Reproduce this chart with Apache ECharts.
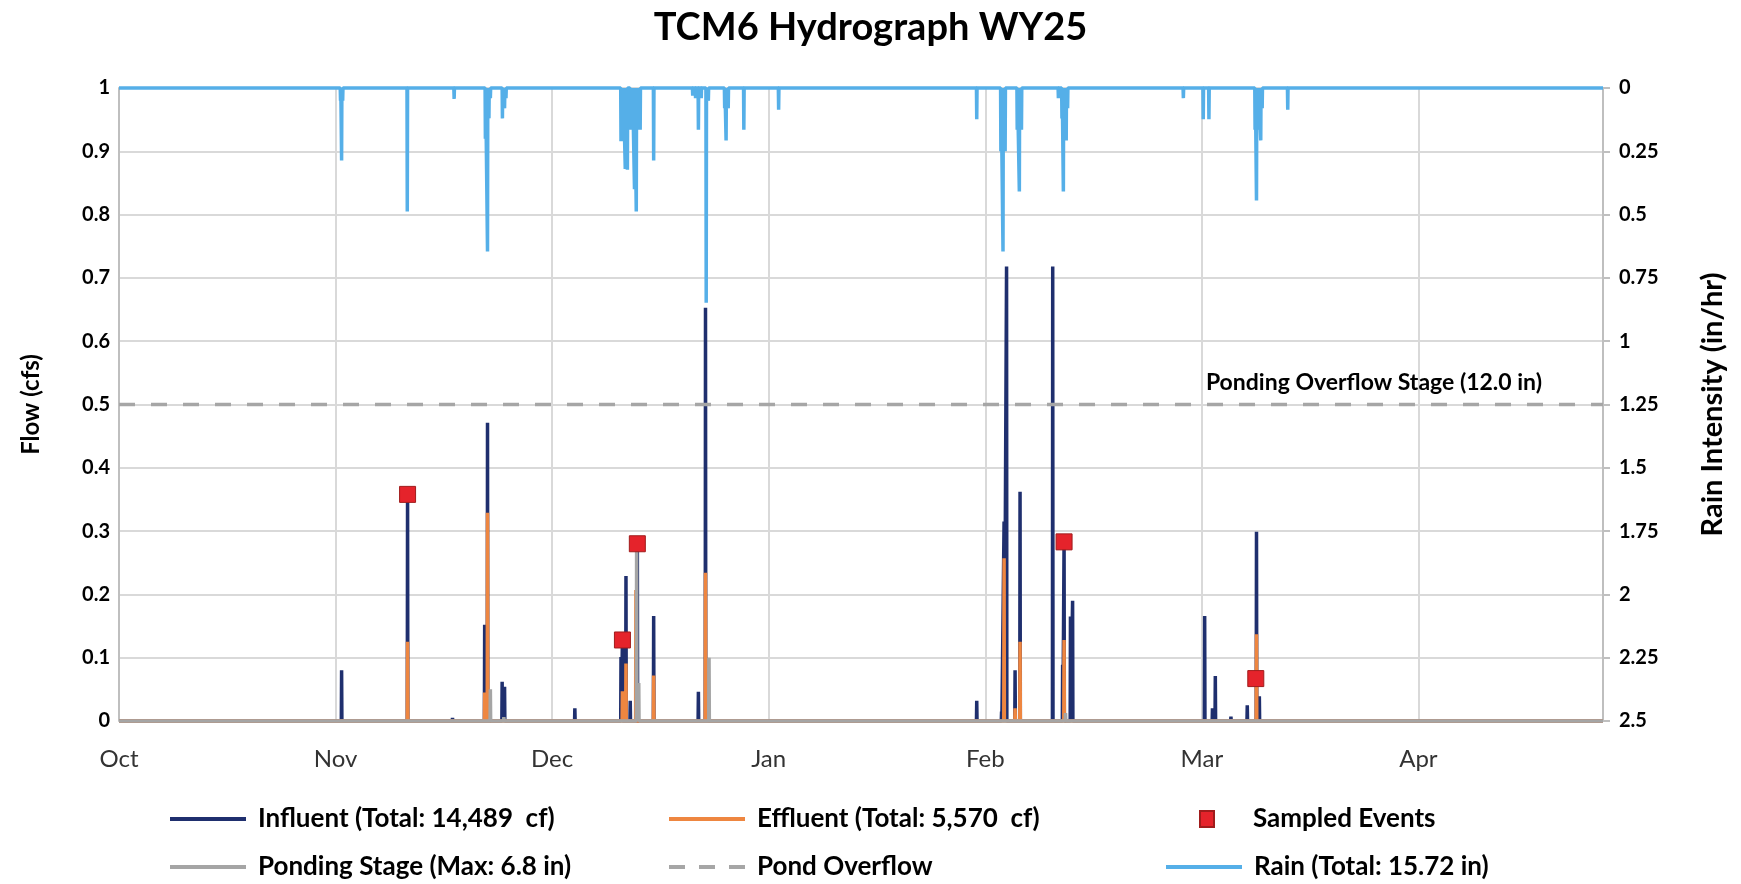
<!DOCTYPE html>
<html>
<head>
<meta charset="utf-8">
<title>TCM6 Hydrograph WY25</title>
<script src="https://cdn.jsdelivr.net/npm/echarts@6/dist/echarts.min.js"></script>
<style>
  html, body { margin: 0; padding: 0; background: #ffffff; }
  #chart { width: 1741px; height: 884px; }
</style>
</head>
<body>
<div id="chart"></div>
<script>
// Time runs in days from 1 Oct 2024; month gridlines every 30.5 days.
const monthLabels = ['Oct', 'Nov', 'Dec', 'Jan', 'Feb', 'Mar', 'Apr'];
const daysPerMonthTick = 30.5;
const lastDay = 209;

// Influent flow peaks [day, cfs]
const influentPeaks = [
  [31.35, 0.080], [40.64, 0.360], [46.97, 0.005],
  [51.5, 0.152], [51.9, 0.471], [53.96, 0.062], [54.3, 0.054],
  [64.2, 0.020],
  [70.7, 0.101], [70.9, 0.128], [71.4, 0.229], [72.0, 0.032], [73.0, 0.280],
  [75.3, 0.166], [81.6, 0.046], [82.6, 0.653],
  [120.8, 0.032],
  [124.3, 0.015], [124.65, 0.315], [125.0, 0.718], [126.2, 0.080], [126.9, 0.362],
  [131.5, 0.718], [132.9, 0.089], [133.1, 0.283], [134.0, 0.165], [134.3, 0.190],
  [152.9, 0.166], [154.0, 0.020], [154.4, 0.071], [156.6, 0.007], [158.9, 0.025],
  [160.2, 0.299], [160.6, 0.039]
];

// Effluent flow peaks [day, cfs]
const effluentPeaks = [
  [40.64, 0.125],
  [51.5, 0.045], [51.9, 0.329],
  [70.9, 0.047], [71.4, 0.091], [72.8, 0.207],
  [75.3, 0.072], [82.6, 0.234],
  [124.65, 0.257], [126.2, 0.020], [126.9, 0.125],
  [133.1, 0.128], [160.2, 0.137]
];

// Ponding stage peaks [day, inches]
const pondingPeaks = [
  [52.3, 1.2], [54.2, 0.15], [72.9, 6.8], [73.2, 1.44], [83.1, 2.4], [133.3, 0.3]
];
const overflowStageIn = 12.0;

// Rain intensity readings [day, in/hr]
const rainPeaks = [
  [31.2, 0.05], [31.35, 0.286], [31.5, 0.05],
  [40.6, 0.488], [47.2, 0.043],
  [51.6, 0.20], [51.9, 0.646], [52.1, 0.12], [52.3, 0.04],
  [54.0, 0.12], [54.3, 0.08], [54.5, 0.04],
  [70.7, 0.21], [71.0, 0.21], [71.3, 0.32], [71.6, 0.323], [72.0, 0.165],
  [72.3, 0.165], [72.6, 0.40], [72.85, 0.488], [73.1, 0.165], [73.4, 0.165],
  [75.3, 0.286],
  [80.8, 0.03], [81.2, 0.04], [81.6, 0.165], [82.0, 0.04], [82.7, 0.848], [83.0, 0.05],
  [85.3, 0.08], [85.5, 0.207], [85.8, 0.08],
  [88.0, 0.165], [92.9, 0.086],
  [120.8, 0.123],
  [124.2, 0.25], [124.5, 0.646], [124.8, 0.25],
  [126.5, 0.165], [126.8, 0.409], [127.1, 0.165],
  [132.3, 0.04], [132.8, 0.12], [133.0, 0.409], [133.2, 0.165], [133.4, 0.207], [133.6, 0.08],
  [149.9, 0.04], [152.7, 0.123], [153.5, 0.123],
  [160.0, 0.165], [160.2, 0.444], [160.5, 0.165], [160.8, 0.207], [161.0, 0.08],
  [164.6, 0.086]
];

// Sampled events [day, cfs]
const sampledEvents = [
  [40.64, 0.358], [70.9, 0.128], [73.0, 0.280], [133.1, 0.283], [160.1, 0.067]
];

// Each peak becomes a narrow spike rising from the zero baseline.
function spikeLine(peaks) {
  const w = 0.04;
  const out = [[0, 0]];
  peaks.forEach(function (p) {
    out.push([p[0] - w, 0], [p[0], p[1]], [p[0] + w, 0]);
  });
  out.push([lastDay, 0]);
  return out;
}

const FONT = 'Lato';
const chart = echarts.init(document.getElementById('chart'), null, { renderer: 'canvas' });

const lineBase = { type: 'line', showSymbol: false, symbol: 'none', clip: false, animation: false };

const legendText = { fontFamily: FONT, fontWeight: 'bold', fontSize: 26, color: '#000', lineHeight: 30, padding: [0, 0, 0, 7] };
const solidIcon = 'rect';
const dashedIcon = 'path://M0,0h16v4h-16z M30,0h16v4h-16z M60,0h16v4h-16z';

function legendAt(name, left, top, extra) {
  return Object.assign({
    data: [{ name: name, icon: solidIcon }], left: left, top: top, padding: 0, orient: 'horizontal',
    itemWidth: 76, itemHeight: 4, selectedMode: false,
    textStyle: legendText
  }, extra || {});
}

const option = {
  backgroundColor: '#ffffff',
  animation: false,
  title: {
    text: 'TCM6 Hydrograph WY25',
    left: 'center',
    top: 4,
    textStyle: { fontFamily: FONT, fontWeight: 'bold', fontSize: 38, color: '#000' }
  },
  grid: { left: 119, top: 88, width: 1484, height: 633, containLabel: false },
  xAxis: {
    type: 'value', min: 0, max: lastDay, interval: daysPerMonthTick,
    axisLine: { show: false }, axisTick: { show: false },
    splitLine: { show: true, lineStyle: { color: '#d9d9d9', width: 2 } },
    axisLabel: {
      margin: 26, fontFamily: FONT, fontSize: 24, color: '#333',
      showMaxLabel: false,
      formatter: function (v) {
        const i = v / daysPerMonthTick;
        if (Math.abs(i - Math.round(i)) > 1e-6) return '';
        return monthLabels[Math.round(i)] || '';
      }
    }
  },
  yAxis: [
    {
      type: 'value', min: 0, max: 1, interval: 0.1, position: 'left',
      name: 'Flow (cfs)', nameLocation: 'middle', nameRotate: 90, nameGap: 76,
      nameTextStyle: { fontFamily: FONT, fontWeight: 'bold', fontSize: 24, color: '#000' },
      axisLine: { show: true, lineStyle: { color: '#bfbfbf', width: 2 } },
      axisTick: { show: false },
      axisLabel: { margin: 9, fontFamily: FONT, fontWeight: 'bold', fontSize: 20, color: '#000' },
      splitLine: { show: true, lineStyle: { color: '#d9d9d9', width: 2 } }
    },
    {
      type: 'value', min: 0, max: 2.5, interval: 0.25, inverse: true, position: 'right',
      name: 'Rain Intensity (in/hr)', nameLocation: 'middle', nameRotate: 90, nameGap: 95,
      nameTextStyle: { fontFamily: FONT, fontWeight: 'bold', fontSize: 29, color: '#000' },
      axisLine: { show: true, lineStyle: { color: '#bfbfbf', width: 2 } },
      axisTick: { show: true, length: 7, lineStyle: { color: '#bfbfbf', width: 2 } },
      axisLabel: { margin: 16, fontFamily: FONT, fontWeight: 'bold', fontSize: 20, color: '#000' },
      splitLine: { show: false }
    },
    { type: 'value', min: 0, max: 24, show: false }
  ],
  legend: [
    legendAt('Influent (Total: 14,489  cf)', 170, 804),
    legendAt('Effluent (Total: 5,570  cf)', 669, 804),
    legendAt('Sampled Events', 1199, 804, {
      data: ['Sampled Events'],
      itemWidth: 14, itemHeight: 16,
      textStyle: Object.assign({}, legendText, { padding: [0, 0, 0, 34] })
    }),
    legendAt('Ponding Stage (Max: 6.8 in)', 170, 852),
    legendAt('Pond Overflow', 669, 852, { data: [{ name: 'Pond Overflow', icon: dashedIcon }] }),
    legendAt('Rain (Total: 15.72 in)', 1166, 852)
  ],
  series: [
    Object.assign({}, lineBase, {
      name: 'Influent (Total: 14,489  cf)', yAxisIndex: 0,
      data: spikeLine(influentPeaks),
      lineStyle: { color: '#1f2f6e', width: 3.5, join: 'bevel', cap: 'butt' },
      itemStyle: { color: '#1f2f6e' }
    }),
    Object.assign({}, lineBase, {
      name: 'Effluent (Total: 5,570  cf)', yAxisIndex: 0,
      data: spikeLine(effluentPeaks),
      lineStyle: { color: '#ee8640', width: 3.5, join: 'bevel', cap: 'butt' },
      itemStyle: { color: '#ee8640' }
    }),
    Object.assign({}, lineBase, {
      name: 'Ponding Stage (Max: 6.8 in)', yAxisIndex: 2,
      data: spikeLine(pondingPeaks),
      lineStyle: { color: '#a5a5a5', width: 3.5, join: 'bevel', cap: 'butt' },
      itemStyle: { color: '#a5a5a5' }
    }),
    Object.assign({}, lineBase, {
      name: 'Pond Overflow', yAxisIndex: 2,
      data: [[0, overflowStageIn], [lastDay, overflowStageIn]],
      lineStyle: { color: '#a6a6a6', width: 3.5, type: [16, 16] },
      itemStyle: { color: '#a6a6a6' },
      endLabel: {
        show: true, align: 'right', verticalAlign: 'middle', distance: 0, offset: [-61, -22],
        formatter: 'Ponding Overflow Stage (' + overflowStageIn.toFixed(1) + ' in)',
        fontFamily: FONT, fontWeight: 'bold', fontSize: 23, color: '#000'
      }
    }),
    Object.assign({}, lineBase, {
      name: 'Rain (Total: 15.72 in)', yAxisIndex: 1,
      data: spikeLine(rainPeaks),
      lineStyle: { color: '#55afe8', width: 3.5, join: 'bevel', cap: 'butt' },
      itemStyle: { color: '#55afe8' }
    }),
    {
      name: 'Sampled Events', type: 'scatter', yAxisIndex: 0,
      symbol: 'rect', symbolSize: 16, animation: false, z: 5,
      data: sampledEvents,
      itemStyle: { color: '#e5232b', borderColor: '#a01c1c', borderWidth: 1, opacity: 1 }
    }
  ]
};

chart.setOption(option);
</script>
</body>
</html>
